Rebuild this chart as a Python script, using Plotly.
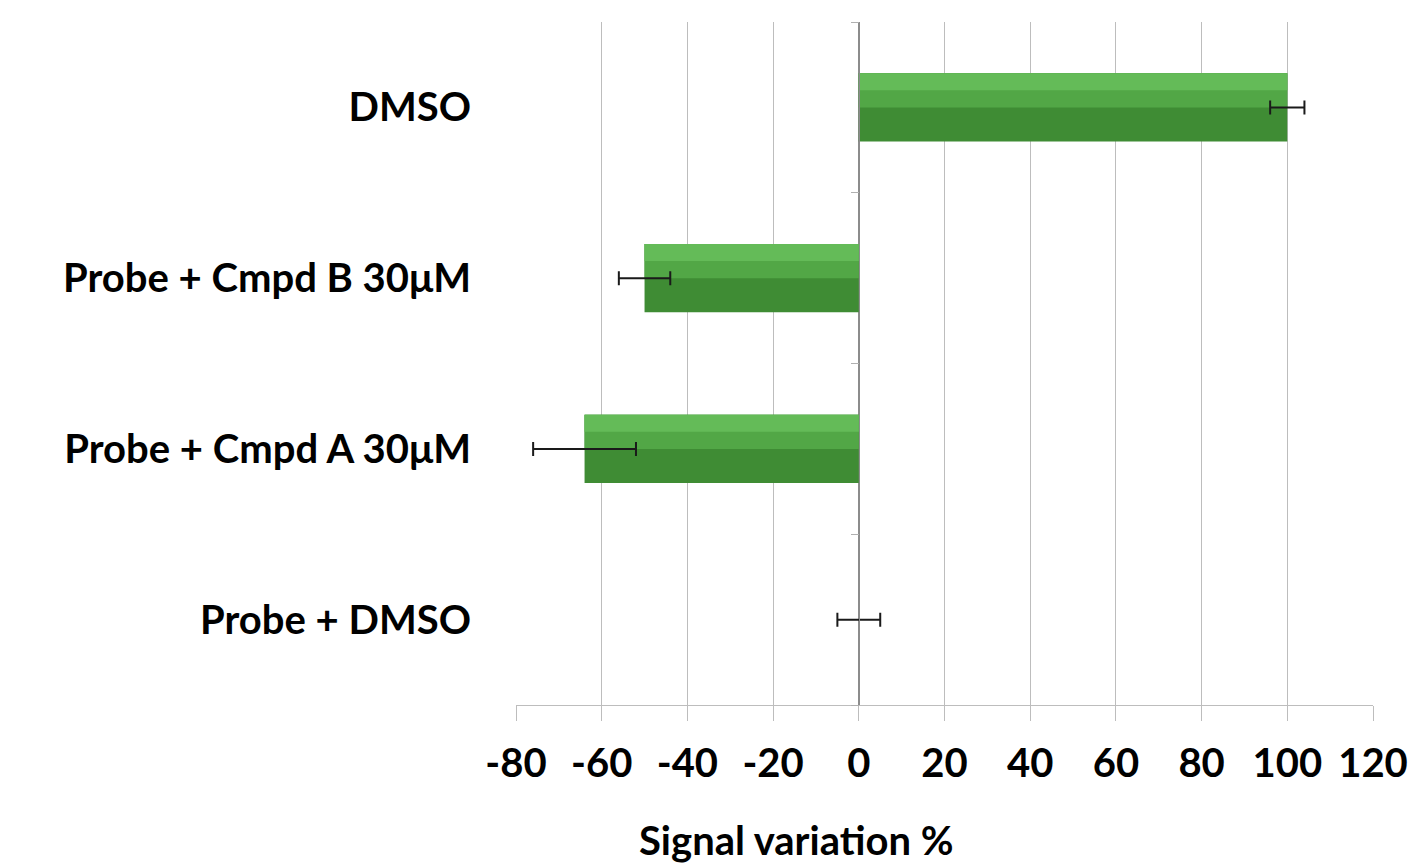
import plotly.graph_objects as go

categories = ["Probe + DMSO", "Probe + Cmpd A 30μM", "Probe + Cmpd B 30μM", "DMSO"]
values = [0, -64, -50, 100]
errors = [5, 12, 6, 4]
x_ticks = [-80, -60, -40, -20, 0, 20, 40, 60, 80, 100, 120]

FONT = "Lato, Open Sans, sans-serif"

fig = go.Figure()

# main bar body
fig.add_trace(go.Bar(
    y=categories, x=values, orientation="h", width=0.4,
    marker=dict(color="#3f8c34", line=dict(width=0)),
    showlegend=False, hoverinfo="x+y",
))
# upper highlight bands (bevel look)
fig.add_trace(go.Bar(
    y=categories, x=values, orientation="h", width=0.2, offset=0.0,
    marker=dict(color="#52a746", line=dict(width=0)),
    showlegend=False, hoverinfo="skip",
))
fig.add_trace(go.Bar(
    y=categories, x=values, orientation="h", width=0.1, offset=0.1,
    marker=dict(color="#64bb58", line=dict(width=0)),
    showlegend=False, hoverinfo="skip",
))
# error bars on top
fig.add_trace(go.Scatter(
    y=categories, x=values, mode="markers", marker=dict(size=1, opacity=0),
    error_x=dict(type="data", array=errors, color="#1a1a1a", thickness=2, width=7),
    showlegend=False, hoverinfo="skip",
))
# invisible trace for the axis at x=0
fig.add_trace(go.Scatter(
    y=categories, x=[0] * len(categories), mode="markers", marker=dict(opacity=0),
    yaxis="y2", showlegend=False, hoverinfo="skip",
))

fig.update_layout(
    width=1412, height=864,
    margin=dict(l=516, r=39, t=22, b=159, autoexpand=False),
    plot_bgcolor="white", paper_bgcolor="white",
    barmode="overlay",
    font=dict(family=FONT, size=40, color="#000000"),
    xaxis=dict(
        range=[-80, 120], tickvals=x_ticks, ticktext=["<b>%d</b>" % v for v in x_ticks],
        showgrid=True, gridcolor="#bdbdbd", gridwidth=1,
        ticks="outside", ticklen=15, tickcolor="#bdbdbd",
        showline=True, linecolor="#bdbdbd", linewidth=1,
        zeroline=True, zerolinecolor="#8c8c8c", zerolinewidth=1,
        tickfont=dict(family=FONT, size=40, color="#000"),
        ticklabelstandoff=8,
        automargin=False, fixedrange=True,
    ),
    yaxis=dict(
        type="category", categoryorder="array", categoryarray=categories,
        tickvals=categories, ticktext=["<b>%s</b>" % c for c in categories],
        range=[-0.5, 3.5], showgrid=False, showline=False, ticks="",
        ticklabelstandoff=44,
        tickfont=dict(family=FONT, size=40, color="#000"),
        automargin=False, fixedrange=True,
    ),
    yaxis2=dict(
        type="category", categoryorder="array", categoryarray=categories,
        range=[-0.5, 3.5], overlaying="y", anchor="free", position=0.4,
        side="left", showgrid=False, showline=True, linecolor="#8c8c8c",
        ticks="outside", tickson="boundaries", ticklen=8, tickcolor="#b0b0b0",
        showticklabels=False, automargin=False, fixedrange=True,
    ),
    annotations=[dict(
        text="<b>Signal variation %</b>", xref="paper", yref="paper",
        x=0.327, y=-0.198, xanchor="center", yanchor="middle",
        showarrow=False, font=dict(family=FONT, size=40, color="#000"),
    )],
)

fig.write_html(
    "out.html",
    config={"displayModeBar": False},
    post_script="document.body.style.margin='0';document.body.style.overflow='hidden';",
)
